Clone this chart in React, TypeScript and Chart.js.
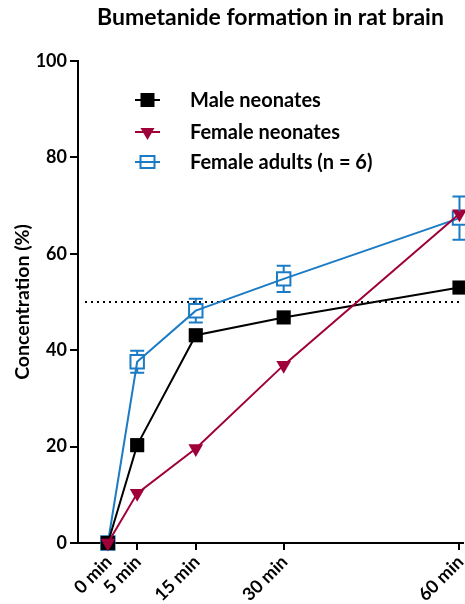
import React, { useEffect, useRef } from 'react';
import { Chart, registerables } from 'chart.js';

Chart.register(...registerables);

const minutes = [0, 5, 15, 30, 60];
const tickLabels = ['0 min', '5 min', '15 min', '30 min', '60 min'];
const maleNeonates = [0, 20.3, 43.1, 46.8, 53.0];
const femaleNeonates = [0, 10.3, 19.6, 36.9, 68.3];
const femaleAdults = [0, 37.6, 48.2, 54.8, 67.4];
const femaleAdultsErr = [0, 2.3, 2.45, 2.7, 4.5];
const seriesNames = ['Male neonates', 'Female neonates', 'Female adults (n = 6)'];
const yTicks = [0, 20, 40, 60, 80, 100];
const threshold = 50;
const chartTitle = 'Bumetanide formation in rat brain';
const yTitle = 'Concentration (%)';

const BLACK = '#000000';
const RED = '#A0003A';
const BLUE = '#1B7BC4';
const FONT = 'Lato, "Open Sans", sans-serif';

function drawMarker(ctx: CanvasRenderingContext2D, kind: string, x: number, y: number, color: string) {
  ctx.save();
  ctx.beginPath();
  if (kind === 'square') {
    ctx.fillStyle = color;
    ctx.fillRect(x - 7, y - 7, 14, 14);
  } else if (kind === 'tri') {
    ctx.fillStyle = color;
    ctx.moveTo(x - 7, y - 4);
    ctx.lineTo(x + 7, y - 4);
    ctx.lineTo(x, y + 8);
    ctx.closePath();
    ctx.fill();
  } else {
    ctx.strokeStyle = color;
    ctx.lineWidth = 2;
    ctx.strokeRect(x - 7, y - 6, 14, 12);
  }
  ctx.restore();
}

export default function App() {
  const ref = useRef<HTMLCanvasElement>(null);
  useEffect(() => {
    document.body.style.margin = '0';
    const canvas = ref.current!;

    const thresholdPlugin = {
      id: 'thresholdLine',
      beforeDatasetsDraw(chart: any) {
        const { ctx, chartArea } = chart;
        const y = chart.scales.y.getPixelForValue(threshold);
        ctx.save();
        ctx.strokeStyle = BLACK;
        ctx.lineWidth = 2;
        ctx.setLineDash([2, 4]);
        ctx.beginPath();
        ctx.moveTo(chartArea.left + 7, y);
        ctx.lineTo(chartArea.right, y);
        ctx.stroke();
        ctx.restore();
      },
    };

    const errorBarPlugin = {
      id: 'errorBars',
      afterDatasetsDraw(chart: any) {
        const { ctx } = chart;
        const xs = chart.scales.x;
        const ys = chart.scales.y;
        ctx.save();
        ctx.strokeStyle = BLUE;
        ctx.lineWidth = 2;
        minutes.forEach((m, i) => {
          const e = femaleAdultsErr[i];
          if (!e) return;
          const px = xs.getPixelForValue(m);
          const pc = ys.getPixelForValue(femaleAdults[i]);
          const pt = ys.getPixelForValue(femaleAdults[i] + e);
          const pb = ys.getPixelForValue(femaleAdults[i] - e);
          ctx.beginPath();
          if (pt < pc - 7) { ctx.moveTo(px, pc - 7); ctx.lineTo(px, pt); }
          if (pb > pc + 7) { ctx.moveTo(px, pc + 7); ctx.lineTo(px, pb); }
          ctx.moveTo(px - 7, pt); ctx.lineTo(px + 7, pt);
          ctx.moveTo(px - 7, pb); ctx.lineTo(px + 7, pb);
          ctx.stroke();
        });
        ctx.restore();
      },
    };

    const xLabelPlugin = {
      id: 'xLabels',
      afterDraw(chart: any) {
        const { ctx } = chart;
        const xs = chart.scales.x;
        const baseY = xs.top + 16;
        ctx.save();
        ctx.fillStyle = BLACK;
        ctx.font = `bold 18px ${FONT}`;
        ctx.textAlign = 'right';
        ctx.textBaseline = 'middle';
        minutes.forEach((m, i) => {
          const px = xs.getPixelForValue(m);
          ctx.save();
          ctx.translate(px + 1, baseY);
          ctx.rotate(-Math.PI / 4);
          ctx.fillText(tickLabels[i], 0, 0);
          ctx.restore();
        });
        ctx.restore();
      },
    };

    const titleLegendPlugin = {
      id: 'titleLegend',
      afterDraw(chart: any) {
        const { ctx, chartArea } = chart;
        ctx.save();
        ctx.fillStyle = BLACK;
        ctx.font = `bold 23px ${FONT}`;
        ctx.textAlign = 'center';
        ctx.textBaseline = 'middle';
        ctx.fillText(chartTitle, (chartArea.left + chartArea.right) / 2, 18);

        const colors = [BLACK, RED, BLUE];
        const kinds = ['square', 'tri', 'open'];
        const ys = [100, 132, 162];
        ctx.font = `bold 20px ${FONT}`;
        ctx.textAlign = 'left';
        seriesNames.forEach((name, i) => {
          const y = ys[i];
          ctx.strokeStyle = colors[i];
          ctx.lineWidth = 2;
          ctx.beginPath();
          ctx.moveTo(135, y);
          ctx.lineTo(160, y);
          ctx.stroke();
          drawMarker(ctx, kinds[i], 147.5, y, colors[i]);
          ctx.fillStyle = BLACK;
          ctx.fillText(name, 190, y + 1);
        });
        ctx.restore();
      },
    };

    const mk = (vals: number[]) => vals.map((v, i) => ({ x: minutes[i], y: v }));

    const chart = new Chart(canvas, {
      type: 'line',
      data: {
        datasets: [
          {
            label: seriesNames[2],
            data: mk(femaleAdults),
            borderColor: BLUE,
            backgroundColor: 'rgba(0,0,0,0)',
            borderWidth: 2,
            pointStyle: 'rect',
            pointRadius: 9.5,
            pointBorderWidth: 2,
            pointBorderColor: BLUE,
            pointBackgroundColor: 'rgba(0,0,0,0)',
            clip: false as any,
            order: 3,
          },
          {
            label: seriesNames[0],
            data: mk(maleNeonates),
            borderColor: BLACK,
            backgroundColor: BLACK,
            borderWidth: 2,
            pointStyle: 'rect',
            pointRadius: 10,
            pointBorderWidth: 0,
            pointBackgroundColor: BLACK,
            clip: false as any,
            order: 2,
          },
          {
            label: seriesNames[1],
            data: mk(femaleNeonates),
            borderColor: RED,
            backgroundColor: RED,
            borderWidth: 2,
            pointStyle: 'triangle',
            rotation: 180,
            pointRadius: 8.5,
            pointBorderWidth: 0,
            pointBackgroundColor: RED,
            clip: false as any,
            order: 1,
          },
        ],
      },
      options: {
        responsive: false,
        animation: false,
        layout: { autoPadding: false, padding: { top: 61, right: 2, left: 0, bottom: 0 } },
        plugins: {
          legend: { display: false },
          title: { display: false },
          tooltip: { enabled: false },
        },
        scales: {
          x: {
            type: 'linear',
            min: -5.1,
            max: 60.6,
            afterBuildTicks: (s: any) => {
              s.ticks = minutes.map((v) => ({ value: v }));
            },
            afterFit: (s: any) => {
              s.height = 61;
            },
            ticks: { display: false },
            grid: { drawOnChartArea: false, drawTicks: true, tickLength: 7, color: BLACK, lineWidth: 2 },
            border: { color: BLACK, width: 2 },
          },
          y: {
            min: 0,
            max: 100,
            afterBuildTicks: (s: any) => {
              s.ticks = yTicks.map((v) => ({ value: v }));
            },
            afterFit: (s: any) => {
              s.width = 78;
            },
            ticks: {
              padding: 3,
              color: BLACK,
              font: { family: FONT, size: 18, weight: 'bold' },
            },
            grid: { drawOnChartArea: false, drawTicks: true, tickLength: 8, color: BLACK, lineWidth: 2 },
            border: { color: BLACK, width: 2 },
            title: {
              display: true,
              text: yTitle,
              color: BLACK,
              padding: { top: 11, bottom: 0 },
              font: { family: FONT, size: 19.5, weight: 'bold' },
            },
          },
        },
      },
      plugins: [thresholdPlugin, errorBarPlugin, xLabelPlugin, titleLegendPlugin],
    } as any);
    return () => chart.destroy();
  }, []);
  return (
    <div style={{ position: 'absolute', left: 0, top: 0, width: 465, height: 604 }}>
      <canvas ref={ref} width={465} height={604} />
    </div>
  );
}
